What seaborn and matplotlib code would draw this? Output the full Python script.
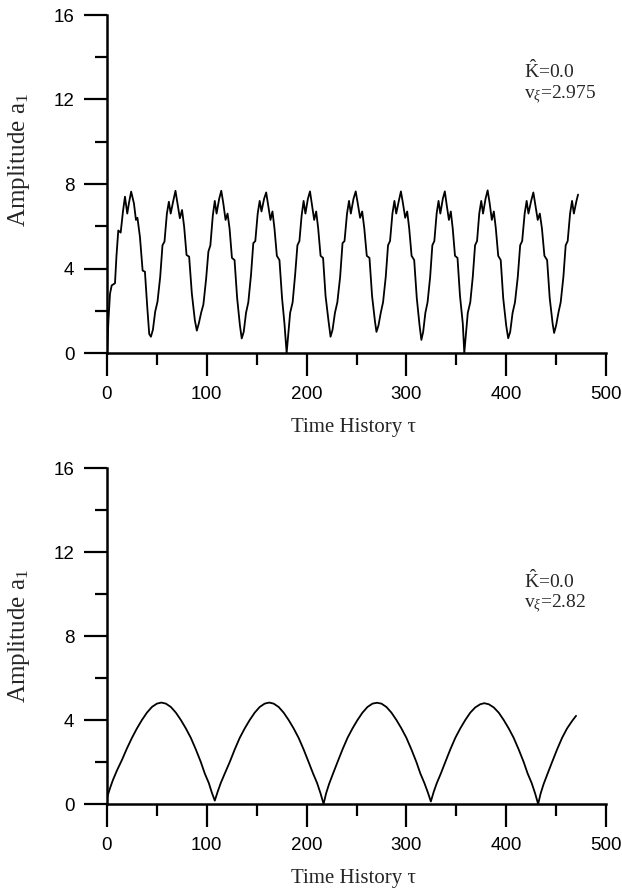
import matplotlib
matplotlib.use("Agg")
import matplotlib.pyplot as plt
import seaborn as sns
import pandas as pd
from matplotlib.ticker import MultipleLocator

# --- top panel: K^=0.0, v_xi=2.975 ---
top_tau = [0, 1.5, 3, 4.7, 8, 9.5, 11.3, 13.7, 16, 18, 20.3, 22, 24.2, 27, 29, 30.5, 33, 35.7, 38, 40.3, 42.3,
           44, 46, 48.3, 50.6, 53.3, 55.6, 57.6, 60, 62, 63.8, 66.4, 68.6, 70.6, 73, 75.2, 77.3, 79.7, 82.3, 85, 88,
           90, 92, 94.3, 96.6, 99.3, 101.6, 103.6, 106, 108, 109.8, 112.4, 114.5, 116.5, 118.8, 120.8, 122.8, 125.2, 127.8, 130.4, 133.2,
           135, 137, 139.3, 141.6, 144.3, 146.6, 148.6, 151, 153, 154.8, 157.4, 159.5, 161.5, 163.8, 165.8, 167.8, 170.2, 172.8, 175.4, 177.8,
           180, 181.5, 183.5, 186, 188.5, 190.8, 192.8, 195, 197, 198.8, 201.3, 203.4, 205.4, 207.6, 209.6, 211.6, 214, 216.5, 219, 222,
           224, 226, 228.4, 230.8, 233.6, 236, 238, 240.5, 242.5, 244.3, 247, 249.2, 251.2, 253.6, 255.7, 257.8, 260.3, 263, 265.6, 268.5,
           270, 272, 274.3, 276.6, 279.3, 281.6, 283.6, 286, 288, 289.8, 292.4, 294.5, 296.5, 298.8, 300.8, 302.8, 305.2, 307.8, 310.4, 313.2,
           315, 316.8, 319, 321.2, 323.8, 326, 328, 330.3, 332.2, 334, 336.5, 338.5, 340.4, 342.6, 344.5, 346.4, 348.7, 351.2, 353.7, 356.5,
           358, 359.5, 361.5, 364, 366.5, 368.8, 370.8, 373, 375, 376.8, 379.3, 381.4, 383.4, 385.6, 387.6, 389.6, 392, 394.5, 397, 400,
           402, 404, 406.4, 408.8, 411.6, 414, 416, 418.5, 420.5, 422.3, 425, 427.2, 429.2, 431.6, 433.7, 435.8, 438.3, 441, 443.6, 446.5,
           448, 450, 452.3, 454.6, 457.3, 459.6, 461.6, 464, 466, 467.8, 470.4, 472]
top_amp = [0, 1.6, 2.8, 3.2, 3.3, 4.6, 5.8, 5.7, 6.7, 7.4, 6.6, 7.1, 7.64, 7.08, 6.3, 6.4, 5.5, 3.9, 3.85, 2.2, 0.9,
           0.77, 1.1, 1.96, 2.43, 3.6, 5.1, 5.27, 6.6, 7.16, 6.6, 7.2, 7.68, 7.08, 6.38, 6.77, 5.98, 4.64, 4.56, 2.82, 1.56,
           1.06, 1.4, 1.9, 2.3, 3.5, 4.8, 5.1, 6.5, 7.2, 6.6, 7.3, 7.68, 7.1, 6.3, 6.6, 5.9, 4.5, 4.4, 2.6, 1.3,
           0.69, 1.0, 1.9, 2.4, 3.7, 5.2, 5.3, 6.6, 7.2, 6.7, 7.3, 7.6, 7.0, 6.3, 6.7, 5.9, 4.6, 4.4, 2.6, 1.4,
           0.0, 0.8, 1.9, 2.4, 3.7, 5.1, 5.3, 6.5, 7.2, 6.6, 7.3, 7.65, 7.0, 6.3, 6.7, 5.9, 4.6, 4.5, 2.7, 1.5,
           0.77, 1.1, 1.9, 2.4, 3.6, 5.2, 5.3, 6.6, 7.2, 6.6, 7.3, 7.65, 7.1, 6.4, 6.7, 5.9, 4.6, 4.5, 2.7, 1.5,
           1.0, 1.3, 1.9, 2.4, 3.6, 5.1, 5.3, 6.6, 7.2, 6.6, 7.2, 7.65, 7.1, 6.4, 6.7, 5.9, 4.6, 4.4, 2.6, 1.3,
           0.62, 1.0, 1.9, 2.4, 3.6, 5.1, 5.3, 6.6, 7.2, 6.6, 7.3, 7.65, 7.0, 6.3, 6.7, 5.9, 4.6, 4.5, 2.7, 1.4,
           0.0, 0.8, 1.9, 2.4, 3.6, 5.1, 5.3, 6.6, 7.2, 6.6, 7.3, 7.7, 7.1, 6.3, 6.7, 5.9, 4.6, 4.4, 2.6, 1.3,
           0.7, 1.0, 1.9, 2.4, 3.6, 5.1, 5.3, 6.6, 7.2, 6.6, 7.2, 7.6, 7.0, 6.3, 6.6, 5.9, 4.6, 4.4, 2.6, 1.4,
           0.95, 1.3, 1.9, 2.4, 3.6, 5.1, 5.3, 6.6, 7.2, 6.6, 7.2, 7.5]

# --- bottom panel: K^=0.0, v_xi=2.82 ---
bot_tau = [0, 3, 6, 10, 15, 20, 25, 30, 35, 40, 45, 50, 54.5, 59, 64, 69, 74, 79, 84, 89, 94, 98, 102, 105,
           108, 111, 114, 118, 123, 128, 133, 138, 143, 148, 153, 158, 162.5, 167, 172, 177, 182, 187, 192, 197, 202, 206.5, 210.5, 214,
           217, 219.5, 222.5, 226.5, 231, 236, 241, 246, 251, 256, 261, 266, 270.5, 275, 280, 285, 290, 295, 300, 305, 310, 314, 318, 321.5,
           324.5, 327.5, 330.5, 334.5, 339, 344, 349, 354, 359, 364, 369, 374, 378, 382.5, 387.5, 392.5, 397.5, 402.5, 407.5, 412.5, 417.5, 421.5, 425.5, 429,
           432, 434.5, 437.5, 441.5, 446, 451, 456, 461, 466, 470]
bot_amp = [0.3, 0.75, 1.15, 1.6, 2.1, 2.65, 3.15, 3.6, 4.0, 4.35, 4.62, 4.78, 4.83, 4.78, 4.62, 4.35, 4.0, 3.6, 3.15, 2.6, 2.0, 1.45, 1.0, 0.55,
           0.16, 0.6, 1.0, 1.45, 2.0, 2.6, 3.15, 3.6, 4.0, 4.35, 4.62, 4.78, 4.83, 4.78, 4.62, 4.35, 4.0, 3.6, 3.15, 2.6, 2.0, 1.45, 1.0, 0.5,
           0.0, 0.5, 0.95, 1.45, 2.0, 2.6, 3.15, 3.6, 4.0, 4.35, 4.62, 4.78, 4.82, 4.78, 4.62, 4.35, 4.0, 3.6, 3.15, 2.6, 2.0, 1.45, 1.0, 0.55,
           0.12, 0.6, 1.0, 1.45, 2.0, 2.6, 3.15, 3.6, 4.0, 4.35, 4.6, 4.75, 4.8, 4.75, 4.6, 4.35, 4.0, 3.6, 3.15, 2.6, 2.0, 1.45, 1.0, 0.5,
           0.0, 0.5, 0.95, 1.45, 2.0, 2.6, 3.15, 3.6, 3.95, 4.2]

x_ticks = [0, 100, 200, 300, 400, 500]
y_ticks = [0, 4, 8, 12, 16]
panel_notes = [(r"$\hat{\mathrm{K}}$=0.0", r"v$_{\xi}$=2.975"),
               (r"$\hat{\mathrm{K}}$=0.0", r"v$_{\xi}$=2.82")]

sns.set_style("ticks")
plt.rcParams["font.family"] = ["Liberation Sans", "DejaVu Sans"]
plt.rcParams["mathtext.fontset"] = "custom"
plt.rcParams["mathtext.rm"] = "Liberation Serif"
plt.rcParams["mathtext.it"] = "Liberation Serif:italic"
serif = ["Liberation Serif", "DejaVu Serif"]

fig = plt.figure(figsize=(6.22, 8.96), dpi=100)
ax_top = fig.add_axes([107 / 622, 1 - 353 / 896, 499 / 622, 338 / 896])
ax_bot = fig.add_axes([107 / 622, 1 - 804 / 896, 499 / 622, 336 / 896])

panels = [
    (ax_top, pd.DataFrame({"tau": top_tau, "amp": top_amp}), 0.571, (418, 13.0, 12.05)),
    (ax_bot, pd.DataFrame({"tau": bot_tau, "amp": bot_amp}), 0.5, (418, 10.3, 9.35)),
]

for i, (ax, df, ylab_y, note_pos) in enumerate(panels):
    sns.lineplot(data=df, x="tau", y="amp", ax=ax, color="black", linewidth=1.3,
                 estimator=None, sort=False)
    ax.set_xlim(0, 500)
    ax.set_ylim(0, 16)
    ax.set_xticks(x_ticks)
    ax.set_yticks(y_ticks)
    ax.xaxis.set_minor_locator(MultipleLocator(50))
    ax.yaxis.set_minor_locator(MultipleLocator(2))
    sns.despine(ax=ax)
    for s in ["left", "bottom"]:
        ax.spines[s].set_linewidth(1.8)
        ax.spines[s].set_color("black")
    ax.tick_params(which="major", direction="out", length=16.5, width=1.6,
                   pad=7, labelsize=13.5, colors="black")
    ax.tick_params(which="minor", direction="out", length=8.5, width=1.6, colors="black")

    ax.set_xlabel(r"Time History τ", fontsize=15, family=serif)
    ax.set_ylabel(r"Amplitude a$_{\mathrm{1}}$", fontsize=18, family=serif)
    ax.xaxis.set_label_coords(0.493, -0.193)
    ax.yaxis.set_label_coords(-0.15, ylab_y)

    nx, ny1, ny2 = note_pos
    ax.text(nx, ny1, panel_notes[i][0], fontsize=14, family=serif, va="baseline")
    ax.text(nx, ny2, panel_notes[i][1], fontsize=14, family=serif, va="baseline")

fig.savefig("out.png", dpi=100)
